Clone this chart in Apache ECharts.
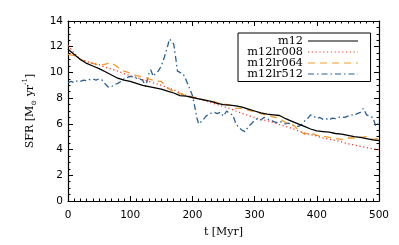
<!DOCTYPE html>
<html>
<head>
<meta charset="utf-8">
<script src="https://cdn.jsdelivr.net/npm/echarts@6/dist/echarts.min.js"></script>
<style>html,body{margin:0;padding:0;background:#fff}#c{width:399px;height:245px}</style>
</head>
<body>
<div id="c"></div>
<script>
// ---- data ----
var seriesNames = ['m12', 'm12lr008', 'm12lr064', 'm12lr512'];
var xTicks = [0, 100, 200, 300, 400, 500];
var yTicks = [0, 2, 4, 6, 8, 10, 12, 14];

var tSmooth = [0,10,20,30,40,50,60,70,80,90,100,110,120,130,140,150,160,170,180,190,200,
  210,220,230,240,250,260,270,280,290,300,310,320,330,340,350,360,370,380,390,400,
  410,420,430,440,450,460,470,480,490,500];
var m12 = [11.8,11.4,11.0,10.7,10.5,10.3,10.05,9.8,9.55,9.4,9.3,9.15,9.0,8.9,8.8,8.7,8.55,8.4,8.2,8.15,8.05,
  7.95,7.85,7.75,7.6,7.5,7.45,7.4,7.3,7.15,7.0,6.85,6.75,6.7,6.65,6.4,6.2,6.0,5.8,5.6,5.45,
  5.4,5.35,5.25,5.2,5.1,5.0,4.95,4.85,4.75,4.7];
var m12lr008 = [12.1,11.5,11.0,10.85,10.7,10.6,10.4,10.25,10.1,9.9,9.75,9.6,9.45,9.3,9.15,9.0,8.8,8.65,8.4,8.2,8.05,
  7.95,7.8,7.65,7.5,7.35,7.2,7.0,6.8,6.65,6.5,6.35,6.25,6.1,5.95,5.8,5.65,5.45,5.3,5.15,5.05,
  4.9,4.8,4.7,4.6,4.45,4.35,4.25,4.15,4.05,4.0];
var m12lr064 = [11.4,11.3,11.0,10.85,10.7,10.55,10.65,10.75,10.4,10.1,9.95,9.75,9.65,9.5,9.35,9.3,8.8,8.5,8.35,8.2,8.1,
  8.0,7.85,7.8,7.65,7.55,7.45,7.2,7.2,7.05,6.95,6.8,6.65,6.55,6.4,6.1,6.0,5.55,5.2,5.3,5.1,
  5.05,4.95,4.85,4.8,4.9,4.9,4.95,5.0,4.8,4.85];

var t512 = [0,5,10,15,20,25,30,35,40,45,50,55,60,65,70,75,80,85,90,95,100,105,110,115,120,125,130,133,137,140,
  145,150,155,160,163,167,170,173,176,180,185,190,195,200,204,207,210,213,217,222,228,235,240,245,250,255,260,265,
  270,275,280,285,290,295,300,305,310,315,320,325,330,335,340,345,350,355,360,365,370,375,380,385,390,395,400,
  405,410,415,420,425,430,435,440,445,450,455,460,465,470,475,480,485,490,495,500];
var m12lr512 = [9.2,9.3,9.2,9.35,9.3,9.4,9.35,9.45,9.5,9.4,9.5,9.4,9.1,8.85,8.9,9.05,9.15,9.3,9.5,9.6,9.7,9.65,9.55,9.5,9.4,8.9,9.9,10.2,9.7,9.9,
  10.1,10.5,11.2,12.0,12.6,12.4,12.2,11.2,10.1,10.0,9.9,9.4,8.8,8.2,7.3,6.5,6.0,5.9,6.3,6.6,6.8,6.9,6.8,6.9,6.6,7.0,6.8,6.7,
  6.0,5.7,5.5,5.4,5.8,6.0,6.3,6.4,6.3,6.5,6.4,6.3,6.2,6.1,6.2,6.1,6.0,6.05,5.9,5.85,5.8,5.9,6.2,6.4,6.7,6.6,6.4,
  6.5,6.35,6.4,6.3,6.45,6.4,6.5,6.55,6.5,6.6,6.7,6.65,6.8,6.9,7.2,6.7,6.6,6.5,5.8,6.1];

function pairs(ts, vs) { return ts.map(function (t, i) { return [t, vs[i]]; }); }

var colors = ['#000000', '#ee3b2f', '#f39c2b', '#2b5f8e'];
var lineTypes = ['solid', [1.2, 2.6], [7, 5], [6, 3, 1.5, 3]];
var dataSets = [pairs(tSmooth, m12), pairs(tSmooth, m12lr008), pairs(tSmooth, m12lr064), pairs(t512, m12lr512)];

var serif = '"DejaVu Serif", serif';
var sans = '"DejaVu Sans", sans-serif';

function xAx(pos, show) {
  return {
    type: 'value', position: pos, min: xTicks[0], max: xTicks[xTicks.length - 1], interval: 100,
    axisLine: { show: true, onZero: false, lineStyle: { color: '#000', width: 1.2 } },
    axisTick: { show: true, inside: true, length: 5, lineStyle: { color: '#000', width: 1 } },
    minorTick: { show: true, splitNumber: 10, length: 2.5, lineStyle: { color: '#000', width: 1 } },
    splitLine: { show: false },
    axisLabel: { show: show, margin: 9, color: '#000', fontFamily: sans, fontSize: 10.5 },
    name: show ? 't [Myr]' : '', nameLocation: 'middle', nameGap: 26,
    nameTextStyle: { color: '#000', fontFamily: serif, fontSize: 11 }
  };
}
function yAx(pos, show) {
  return {
    type: 'value', position: pos, min: yTicks[0], max: yTicks[yTicks.length - 1], interval: 2,
    axisLine: { show: true, onZero: false, lineStyle: { color: '#000', width: 1.2 } },
    axisTick: { show: true, inside: true, length: 5, lineStyle: { color: '#000', width: 1 } },
    minorTick: { show: true, splitNumber: 4, length: 2.5, lineStyle: { color: '#000', width: 1 } },
    splitLine: { show: false },
    axisLabel: { show: show, margin: 5, color: '#000', fontFamily: sans, fontSize: 10.5 },
    name: show ? '{a|SFR [M}{s|⊙}{a| yr}{p|-1}{a|]}' : '', nameLocation: 'middle', nameGap: 30, nameRotate: 90,
    nameTextStyle: {
      color: '#000', fontFamily: serif, fontSize: 11,
      rich: {
        a: { fontFamily: serif, fontSize: 11, color: '#000', lineHeight: 16, verticalAlign: 'middle' },
        s: { fontFamily: serif, fontSize: 7, color: '#000', lineHeight: 16, verticalAlign: 'bottom' },
        p: { fontFamily: serif, fontSize: 7, color: '#000', lineHeight: 16, verticalAlign: 'top' }
      }
    }
  };
}

var chart = echarts.init(document.getElementById('c'), null, { renderer: 'canvas' });
chart.setOption({
  animation: false,
  backgroundColor: '#fff',
  grid: { left: 68, right: 20, top: 21, bottom: 44, containLabel: false },
  xAxis: [xAx('bottom', true), xAx('top', false)],
  yAxis: [yAx('left', true), yAx('right', false)],
  legend: {
    orient: 'vertical', left: 238, top: 33, align: 'right',
    padding: [2.5, 12, 2, 2], itemGap: 0, itemWidth: 50, itemHeight: 8,
    borderColor: '#000', borderWidth: 1, backgroundColor: '#fff',
    itemStyle: { opacity: 0 },
    lineStyle: { width: 1.1 },
    data: seriesNames,
    formatter: function (n) { return '{n|' + n + '}'; },
    textStyle: {
      color: '#000', fontFamily: serif, fontSize: 11.3,
      rich: { n: { width: 63, align: 'right', fontFamily: serif, fontSize: 11.3, lineHeight: 13.3, color: '#000' } }
    }
  },
  series: seriesNames.map(function (n, i) {
    return {
      name: n, type: 'line', xAxisIndex: 0, yAxisIndex: 0,
      data: dataSets[i], showSymbol: false, symbol: 'none', smooth: false,
      lineStyle: { color: colors[i], width: 1.3, type: lineTypes[i] },
      itemStyle: { color: colors[i] },
      z: 4 - i
    };
  })
});
</script>
</body>
</html>
